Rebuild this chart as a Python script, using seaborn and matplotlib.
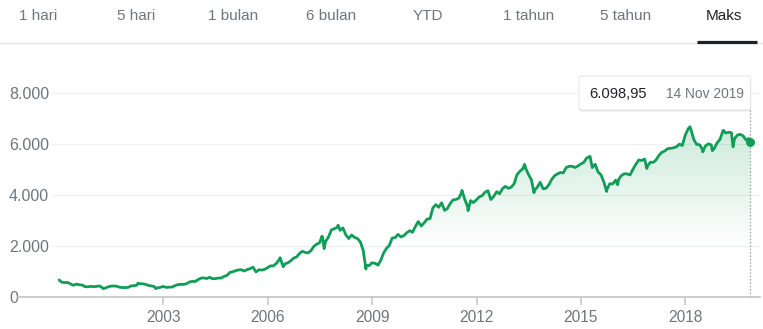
import numpy as np
import pandas as pd
import matplotlib
matplotlib.use("Agg")
import matplotlib.pyplot as plt
import seaborn as sns
from matplotlib.patches import FancyBboxPatch
from matplotlib.lines import Line2D
from matplotlib.colors import to_rgb

# ---------------- data (IHSG / JCI, month-end closes) ----------------
close_2000 = [592, 577, 583, 526, 471, 515, 492, 484, 421, 409, 430, 416]
close_2001 = [427, 449, 381, 358, 408, 437, 443, 435, 393, 384, 380, 392]
close_2002 = [451, 453, 481, 534, 530, 505, 463, 443, 419, 369, 390, 425]
close_2003 = [388, 399, 398, 450, 494, 505, 507, 529, 597, 626, 617, 691]
close_2004 = [752, 761, 735, 783, 732, 732, 756, 755, 820, 860, 978, 1000]
close_2005 = [1045, 1073, 1080, 1029, 1088, 1122, 1182, 994, 1079, 1066, 1096, 1163]
close_2006 = [1232, 1230, 1323, 1464, 1330, 1310, 1351, 1431, 1534, 1582, 1718, 1806]
close_2007 = [1757, 1741, 1830, 1999, 2084, 2139, 2349, 2194, 2359, 2643, 2688, 2746]
close_2008 = [2627, 2721, 2447, 2304, 2444, 2350, 2304, 2166, 1832, 1257, 1241, 1355]
close_2009 = [1332, 1285, 1434, 1723, 1917, 2027, 2323, 2341, 2468, 2368, 2416, 2534]
close_2010 = [2611, 2549, 2777, 2971, 2797, 2914, 3069, 3082, 3501, 3635, 3531, 3704]
close_2011 = [3409, 3471, 3679, 3820, 3837, 3889, 4131, 3842, 3549, 3791, 3715, 3822]
close_2012 = [3942, 3985, 4122, 4181, 3833, 3956, 4142, 4060, 4263, 4350, 4276, 4317]
close_2013 = [4454, 4796, 4941, 5034, 5069, 4819, 4610, 4196, 4316, 4511, 4256, 4274]
close_2014 = [4419, 4620, 4768, 4840, 4894, 4879, 5089, 5137, 5138, 5090, 5150, 5227]
close_2015 = [5289, 5450, 5519, 5086, 5216, 4911, 4803, 4510, 4224, 4455, 4446, 4593]
close_2016 = [4615, 4771, 4845, 4839, 4797, 5017, 5216, 5386, 5365, 5423, 5149, 5297]
close_2017 = [5294, 5387, 5568, 5685, 5738, 5830, 5841, 5864, 5901, 6006, 5952, 6356]
close_2018 = [6606, 6597, 6189, 5995, 5984, 5799, 5936, 6018, 5977, 5832, 6056, 6194]
close_2019 = [6533, 6443, 6469, 6455, 6209, 6359, 6391, 6328, 6169, 6228]

# intra-month highs / lows visible on the chart
extra_dates = ["2000-01-03", "2001-04-10", "2002-04-10", "2002-10-15", "2006-05-11",
               "2006-06-13", "2007-07-24", "2007-08-16", "2008-01-09", "2008-10-28",
               "2009-03-02", "2011-08-01", "2011-10-04", "2013-05-20", "2013-08-27",
               "2015-04-07", "2015-09-28", "2016-01-21", "2016-11-24", "2018-02-19",
               "2018-07-03", "2018-10-11", "2019-02-06", "2019-05-17", "2019-11-14"]
extra_values = [680, 340, 551, 337, 1553,
                1200, 2400, 1908, 2830, 1111,
                1256, 4193, 3400, 5214, 4100,
                5524, 4150, 4414, 5050, 6689,
                5700, 5750, 6547, 5900, 6098.95]

year_ticks = [2003, 2006, 2009, 2012, 2015, 2018]
y_ticks = [0, 2000, 4000, 6000, 8000]
y_tick_labels = ["0", "2.000", "4.000", "6.000", "8.000"]
tabs = ["1 hari", "5 hari", "1 bulan", "6 bulan", "YTD", "1 tahun", "5 tahun", "Maks"]
tooltip_value = "6.098,95"
tooltip_date = "14 Nov 2019"

# ---------------- build table ----------------
monthly = (close_2000 + close_2001 + close_2002 + close_2003 + close_2004 + close_2005 +
           close_2006 + close_2007 + close_2008 + close_2009 + close_2010 + close_2011 +
           close_2012 + close_2013 + close_2014 + close_2015 + close_2016 + close_2017 +
           close_2018 + close_2019)
m_dates = pd.date_range("2000-01-31", periods=len(monthly), freq=pd.offsets.MonthEnd())
df = pd.concat([
    pd.DataFrame({"date": m_dates, "value": monthly}),
    pd.DataFrame({"date": pd.to_datetime(extra_dates), "value": extra_values}),
]).sort_values("date").reset_index(drop=True)
days = np.where(df["date"].dt.is_leap_year, 366, 365)
df["t"] = df["date"].dt.year + (df["date"].dt.dayofyear - 1) / days

# ---------------- figure ----------------
W, H = 763, 329
sns.set_theme(style="white")
plt.rcParams["font.family"] = ["Liberation Sans", "DejaVu Sans"]

fig = plt.figure(figsize=(W / 100, H / 100), dpi=100)
fig.patch.set_facecolor("white")


def fx(px):
    return px / W


def fy(py):
    return 1 - py / H


ax_left, ax_right, ax_top, ax_bot = 18, 760, 60, 297.3
ax = fig.add_axes([fx(ax_left), fy(ax_bot), (ax_right - ax_left) / W, (ax_bot - ax_top) / H])
ax.set_facecolor("none")

px_per_year = 34.8
x0 = 2003 - (163.3 - ax_left) / px_per_year
x1 = 2003 + (ax_right - 163.3) / px_per_year
px_per_unit = 204 / 8000
ymax = (ax_bot - ax_top) / px_per_unit

green = "#0f9d58"

# gridlines
for v in y_ticks[1:]:
    ax.axhline(v, xmin=(52 - ax_left) / (ax_right - ax_left), xmax=1,
               color="#efefef", lw=0.8, zorder=0)

# gradient fill under the line
ys = np.linspace(0, ymax, 400)
alpha = np.clip((ys - 1800) / (6700 - 1800), 0, None) * 0.21
rgba = np.zeros((len(ys), 1, 4))
rgba[..., :3] = to_rgb(green)
rgba[..., 3] = alpha[:, None]
img = ax.imshow(rgba, extent=[x0, x1, 0, ymax], origin="lower", aspect="auto",
                zorder=1, interpolation="bilinear")
poly = ax.fill_between(df["t"], df["value"], 0, color="none", lw=0)
img.set_clip_path(poly.get_paths()[0], transform=ax.transData)

# line
sns.lineplot(data=df, x="t", y="value", color=green, lw=2.0, ax=ax,
             estimator=None, sort=False, zorder=3)
last = df.iloc[-1]
ax.scatter([last["t"]], [last["value"]], s=42, color=green, zorder=4, lw=0)

# dotted cursor line
ax.plot([last["t"], last["t"]], [0, (ax_bot - 110) / px_per_unit],
        ls=(0, (1.2, 1.5)), color="#9aa0a6", lw=0.9, zorder=2)

ax.set_xlim(x0, x1)
ax.set_ylim(0, ymax)
ax.set_xlabel("")
ax.set_ylabel("")

for s in ["top", "right", "left"]:
    ax.spines[s].set_visible(False)
ax.spines["bottom"].set_color("#c4c4c4")
ax.spines["bottom"].set_linewidth(1.2)

ax.set_xticks(year_ticks)
ax.set_xticklabels([str(y) for y in year_ticks])
ax.tick_params(axis="x", length=6, width=1.1, color="#c4c4c4", labelcolor="#70757a",
               labelsize=11.2, pad=3, direction="out", bottom=True)
ax.set_yticks(y_ticks)
ax.set_yticklabels(y_tick_labels)
ax.tick_params(axis="y", length=0, pad=6.5, labelsize=11.5, labelcolor="#70757a", left=True)
for lbl in ax.get_yticklabels():
    lbl.set_horizontalalignment("left")
ax.grid(False)

# tabs
tab_x = [38, 136, 233, 331, 428, 529, 626, 724]
for lbl, cx in zip(tabs, tab_x):
    fig.text(fx(cx), fy(15.5), lbl, ha="center", va="center", fontsize=11,
             color="#202124" if lbl == "Maks" else "#70757a")
fig.add_artist(Line2D([0, 1], [fy(42.7), fy(42.7)], transform=fig.transFigure,
                      color="#e6e6e6", lw=0.9))
fig.add_artist(Line2D([fx(697), fx(757)], [fy(42.2), fy(42.2)], transform=fig.transFigure,
                      color="#202124", lw=2.3, solid_capstyle="butt"))

# tooltip
bx0, bx1, by0, by1 = 579, 750.7, 76, 110
shadow = FancyBboxPatch((fx(bx0), fy(by1 + 1.5)), (bx1 - bx0) / W, (by1 - by0) / H,
                        boxstyle="round,pad=0,rounding_size=0.006", transform=fig.transFigure,
                        fc="#000000", ec="none", alpha=0.10, zorder=5)
box = FancyBboxPatch((fx(bx0), fy(by1)), (bx1 - bx0) / W, (by1 - by0) / H,
                     boxstyle="round,pad=0,rounding_size=0.006", transform=fig.transFigure,
                     fc="white", ec="#e3e3e3", lw=0.7, zorder=6)
fig.add_artist(shadow)
fig.add_artist(box)
fig.text(fx(589), fy(93.5), tooltip_value, ha="left", va="center", fontsize=10.6,
         color="#202124", zorder=7)
fig.text(fx(666), fy(93.5), tooltip_date, ha="left", va="center", fontsize=9.9,
         color="#70757a", zorder=7)

fig.savefig("out.png", dpi=100, facecolor="white")
